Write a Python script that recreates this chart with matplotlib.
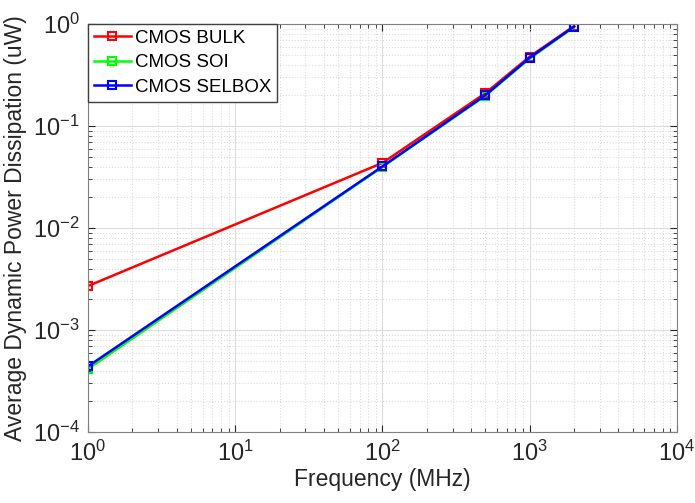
import matplotlib
matplotlib.use("Agg")
import matplotlib.pyplot as plt

plt.rcParams['font.family'] = ['Liberation Sans', 'DejaVu Sans']
plt.rcParams['mathtext.fontset'] = 'custom'
plt.rcParams['mathtext.rm'] = 'Liberation Sans'
plt.rcParams['mathtext.it'] = 'Liberation Sans'
plt.rcParams['mathtext.bf'] = 'Liberation Sans'

freq = [1, 100, 500, 1000, 2000]
bulk = [2.7e-3, 0.0435, 0.21, 0.48, 0.955]
soi = [4.15e-4, 0.0398, 0.198, 0.46, 0.935]
selbox = [4.4e-4, 0.0402, 0.201, 0.468, 0.945]

fig = plt.figure(figsize=(6.95, 5.03), dpi=100)
ax = fig.add_axes([0.1266, 0.1412, 0.8475, 0.811])

ax.plot(freq, bulk, color='#ff0000', marker='s', markersize=5.5, markerfacecolor='none',
        markeredgewidth=1.5, linewidth=1.8, label='CMOS BULK')
ax.plot(freq, soi, color='#00ff00', marker='s', markersize=5.5, markerfacecolor='none',
        markeredgewidth=1.5, linewidth=1.8, label='CMOS SOI')
ax.plot(freq, selbox, color='#0000ff', marker='s', markersize=5.5, markerfacecolor='none',
        markeredgewidth=1.5, linewidth=1.8, label='CMOS SELBOX')

ax.set_xscale('log')
ax.set_yscale('log')
ax.set_xlim(1, 1e4)
ax.set_ylim(1e-4, 1)

ax.grid(True, which='major', color='#dcdcdc', linewidth=0.8)
ax.grid(True, which='minor', color='#dcdcdc', linestyle=':', linewidth=0.8)
ax.tick_params(which='both', direction='in', top=True, right=True, colors='#262626', labelsize=17)
ax.tick_params(which='major', length=5, pad=6)
ax.tick_params(which='minor', length=3)
for s in ax.spines.values():
    s.set_color('#808080')

ax.set_xlabel('Frequency (MHz)', fontsize=16.5, color='#262626', labelpad=2)
ax.set_ylabel('Average Dynamic Power Dissipation (uW)', fontsize=16.5, color='#262626', labelpad=4)

leg = ax.legend(loc='upper left', fontsize=13.5, fancybox=False, framealpha=1,
                borderaxespad=0.0, handlelength=2.0, handletextpad=0.2,
                labelspacing=0.4, borderpad=0.3)
leg.get_frame().set_edgecolor('#404040')

fig.savefig('out.png', dpi=100, facecolor='white')
